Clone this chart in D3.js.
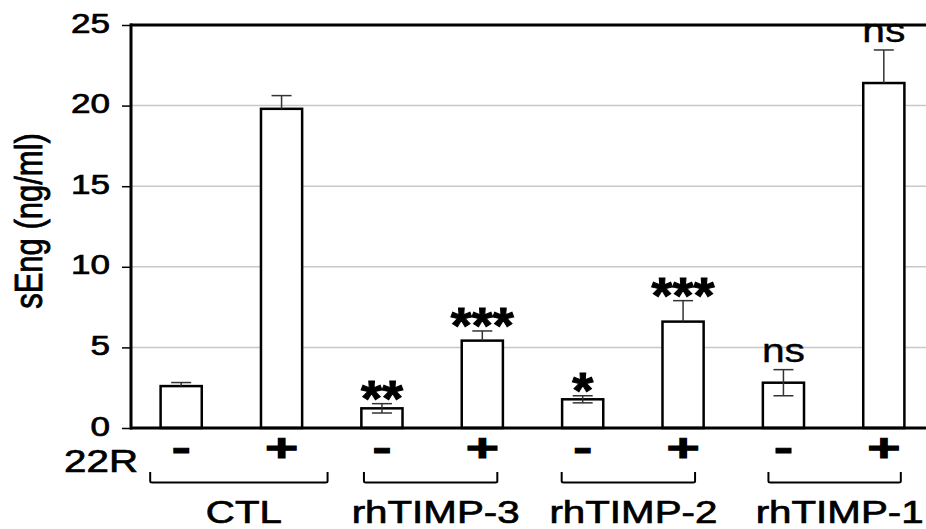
<!DOCTYPE html>
<html>
<head>
<meta charset="utf-8">
<script src="https://cdn.jsdelivr.net/npm/d3@7"></script>
<style>
  body { margin: 0; background: #fff; }
  svg { display: block; font-family: "Liberation Sans", Arial, sans-serif; }
  text { stroke: #000; stroke-width: 0.7px; }
</style>
</head>
<body>
<svg id="chart" width="926" height="529"></svg>
<script>
// ---- data ----
const groups = ["CTL", "rhTIMP-3", "rhTIMP-2", "rhTIMP-1"];
const treatments = ["-", "+"];
const barIds = ["CTL-", "CTL+", "T3-", "T3+", "T2-", "T2+", "T1-", "T1+"];
const values = [2.6, 19.8, 1.22, 5.42, 1.78, 6.6, 2.81, 21.4];
const errors = [0.22, 0.82, 0.29, 0.6, 0.22, 1.3, 0.81, 2.05];
const showLowerErr = [false, false, true, false, true, false, true, false];
const signif = ["", "", "**", "***", "*", "***", "ns", "ns"];
const yTicks = [0, 5, 10, 15, 20, 25];
const yTitle = "sEng (ng/ml)";
const rowLabel = "22R";

// ---- layout ----
const svg = d3.select("#chart");
const SX = 1.26; // horizontal stretch of the original lettering
const y = d3.scaleLinear().domain([0, 25]).range([428, 25]);
const x = d3.scaleBand().domain(barIds).range([131, 934]).paddingInner(0.59).paddingOuter(0.295);
const cx = id => x(id) + x.bandwidth() / 2;

function stext(g, tx, ty, str, opts) {
  const t = g.append("text")
    .attr("transform", `translate(${tx},${ty}) scale(${opts.sx || SX},${opts.sy || 1})`)
    .attr("text-anchor", opts.anchor || "middle")
    .attr("font-size", opts.size)
    .attr("font-weight", opts.weight || "normal")
    .attr("fill", "#000")
    .text(str);
  if (opts.sw != null) t.style("stroke-width", opts.sw + "px");
  return t;
}

// gridlines
svg.append("g").selectAll("line").data(yTicks.filter(d => d > 0 && d < 25)).join("line")
  .attr("x1", 131).attr("x2", 926).attr("y1", d => y(d)).attr("y2", d => y(d))
  .attr("stroke", "#c8c8c8").attr("stroke-width", 1.5);

// top frame line
svg.append("line").attr("x1", 130).attr("x2", 926).attr("y1", y(25)).attr("y2", y(25))
  .attr("stroke", "#000").attr("stroke-width", 3);

// bars
svg.append("g").selectAll("rect").data(barIds).join("rect")
  .attr("x", d => x(d)).attr("width", x.bandwidth())
  .attr("y", (d, i) => y(values[i])).attr("height", (d, i) => y(0) - y(values[i]))
  .attr("fill", "#fff").attr("stroke", "#000").attr("stroke-width", 2.5);

// error bars
const eg = svg.append("g").attr("stroke", "#333").attr("stroke-width", 1.5);
barIds.forEach((d, i) => {
  const c = cx(d);
  const top = values[i] + errors[i];
  eg.append("line").attr("x1", c).attr("x2", c).attr("y1", y(values[i])).attr("y2", y(top));
  eg.append("line").attr("x1", c - 10).attr("x2", c + 10).attr("y1", y(top)).attr("y2", y(top));
  if (showLowerErr[i]) {
    const bot = values[i] - errors[i];
    eg.append("line").attr("x1", c).attr("x2", c).attr("y1", y(values[i])).attr("y2", y(bot));
    eg.append("line").attr("x1", c - 10).attr("x2", c + 10).attr("y1", y(bot)).attr("y2", y(bot));
  }
});

// significance labels
const sg = svg.append("g");
barIds.forEach((d, i) => {
  const s = signif[i];
  if (!s) return;
  const capY = y(values[i] + errors[i]);
  if (s === "ns") {
    stext(sg, cx(d), capY - 8, s, { size: 34, sx: 1.2, sw: 0.4 });
  } else {
    stext(sg, cx(d), capY + 12, s, { size: 50, weight: "bold", sx: 1.08, sw: 1 });
  }
});

// y axis
const axis = svg.append("g").attr("transform", "translate(131,0)")
  .call(d3.axisLeft(y).tickValues(yTicks).tickSize(9).tickFormat(d3.format("d")));
axis.select(".domain").attr("stroke", "#000").attr("stroke-width", 3).attr("d", `M0,${y(25) - 1.5}V${y(0) + 1.5}`);
axis.selectAll(".tick line").attr("stroke", "#000").attr("stroke-width", 1.5);
axis.selectAll(".tick text")
  .attr("x", null).attr("dy", null)
  .attr("font-size", 27).attr("fill", "#000").attr("font-family", "Liberation Sans, Arial, sans-serif")
  .attr("transform", `translate(-21,7) scale(1.3,1)`).attr("text-anchor", "end");

// baseline
svg.append("line").attr("x1", 130).attr("x2", 926).attr("y1", y(0)).attr("y2", y(0))
  .attr("stroke", "#000").attr("stroke-width", 3);

// y title
svg.append("text")
  .attr("transform", `translate(42,221) rotate(-90) scale(1,1.25)`)
  .attr("text-anchor", "middle").attr("font-size", 31).attr("fill", "#000")
  .text(yTitle);

// treatment row
const tg = svg.append("g");
stext(tg, 138, 472, rowLabel, { size: 32, anchor: "end" });
barIds.forEach((d, i) => {
  stext(tg, cx(d), 461, treatments[i % 2], { size: 38, weight: "bold", sx: 1.5, sw: 1 });
});

// group brackets and labels
const bracketPad = [[31, 46], [18, 15], [21, 12], [15, 17]];
const bg = svg.append("g");
groups.forEach((g, gi) => {
  const x1 = cx(barIds[gi * 2]) - bracketPad[gi][0];
  const x2 = cx(barIds[gi * 2 + 1]) + bracketPad[gi][1];
  bg.append("path")
    .attr("d", `M${x1},472 V481 Q${x1},482.5 ${x1 + 2},482.5 H${x2 - 2} Q${x2},482.5 ${x2},481 V472`)
    .attr("fill", "none").attr("stroke", "#000").attr("stroke-width", 2);
  stext(bg, (x1 + x2) / 2 + 5, 523, g, { size: 32 });
});
</script>
</body>
</html>
